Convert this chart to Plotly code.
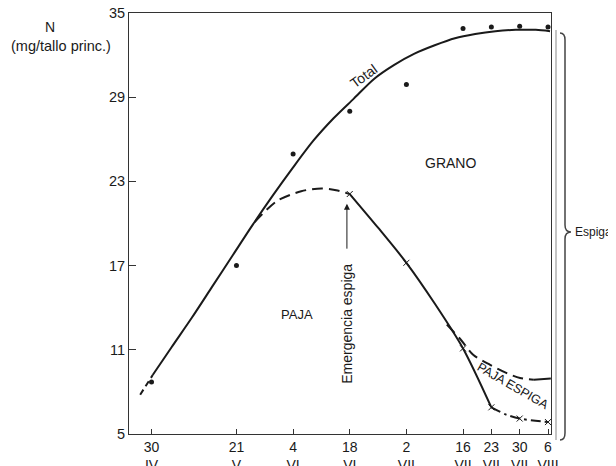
import plotly.graph_objects as go

# ---- data (days after 30 April) ----
tick_days = [0, 21, 35, 49, 63, 77, 84, 91, 98]
tick_day_labels = ["30", "21", "4", "18", "2", "16", "23", "30", "6"]
tick_month_labels = ["IV", "V", "VI", "VI", "VII", "VII", "VII", "VII", "VIII"]

y_ticks = [5, 11, 17, 23, 29, 35]

# observed total N (dots)
total_obs_days = [0, 21, 35, 49, 63, 77, 84, 91, 98]
total_obs_vals = [8.7, 17.0, 24.95, 28.0, 29.9, 33.9, 34.0, 34.05, 34.0]

# observed straw N (x marks)
paja_obs_days = [49, 63, 77, 84, 91, 98]
paja_obs_vals = [22.1, 17.2, 11.1, 6.9, 6.1, 5.85]

# fitted total curve
total_start_days = [-2.8, 0.3]
total_start_vals = [7.8, 9.2]
total_curve_days = [0.3, 5, 10, 15, 20, 25, 30, 35, 40, 45, 50, 55, 60, 65, 70, 75, 80, 85, 90, 95, 98.5]
total_curve_vals = [9.2, 11.2, 13.3, 15.5, 17.7, 19.9, 22.0, 24.0, 25.9, 27.5, 28.9, 30.3, 31.3, 32.1, 32.7, 33.2, 33.5, 33.7, 33.8, 33.8, 33.7]

# straw curve before ear emergence (dashed)
paja_pre_days = [25.5, 31, 37, 42, 46, 49]
paja_pre_vals = [20.1, 21.6, 22.3, 22.5, 22.35, 22.1]

# straw curve after ear emergence (solid)
paja_post_days = [49, 56, 63, 70, 77, 84]
paja_post_vals = [22.1, 19.7, 17.2, 14.3, 11.1, 6.9]

# straw curve, last part (dash-dot)
paja_end_days = [84, 87.5, 91, 98]
paja_end_vals = [6.9, 6.4, 6.1, 5.85]

# upper limit of ear straw (dashed then solid)
espiga_dash_days = [73, 76.5, 79.5, 83.7, 87.8, 91.1, 94.5]
espiga_dash_vals = [12.8, 11.7, 10.65, 9.93, 9.34, 8.99, 8.87]
espiga_solid_days = [94.5, 98.7]
espiga_solid_vals = [8.87, 8.95]

FONT = "Liberation Sans, Arial, sans-serif"
INK = "#1a1a1a"

fig = go.Figure()

def line(x, y, dash="solid", width=2.0, shape="spline"):
    fig.add_trace(go.Scatter(x=x, y=y, mode="lines",
                             line=dict(color=INK, width=width, dash=dash, shape=shape, smoothing=0.8),
                             hoverinfo="skip", showlegend=False))

line(total_start_days, total_start_vals, dash="6px,4px", shape="linear")
line(total_curve_days, total_curve_vals)
line(paja_pre_days, paja_pre_vals, dash="11px,6px")
line(paja_post_days, paja_post_vals)
line(paja_end_days, paja_end_vals, dash="10px,4px,3px,4px")
line(espiga_dash_days, espiga_dash_vals, dash="11px,6px")
line(espiga_solid_days, espiga_solid_vals, shape="linear")

fig.add_trace(go.Scatter(x=total_obs_days, y=total_obs_vals, mode="markers",
                         marker=dict(symbol="circle", size=5, color=INK),
                         showlegend=False))
fig.add_trace(go.Scatter(x=paja_obs_days, y=paja_obs_vals, mode="markers",
                         marker=dict(symbol="x-thin", size=6, line=dict(color=INK, width=1)),
                         showlegend=False))

tick_text = [f"{d}<br>{m}" for d, m in zip(tick_day_labels, tick_month_labels)]

# page has an 8px body margin; plot area on screen: x 129..551, y 13..434
OFF = 8
SL, SR, ST, SB = 129, 551, 13, 434
W, H = 616, 466
L = SL - OFF
T = ST - OFF
PW, PH = SR - SL, SB - ST
R = W - L - PW
B = H - T - PH

def px(xs):
    return (xs - SL) / PW

def py(ys):
    return (SB - ys) / PH

fig.update_layout(
    width=W, height=H,
    margin=dict(l=L, r=R, t=T, b=B, pad=0, autoexpand=False),
    paper_bgcolor="white", plot_bgcolor="white",
    font=dict(family=FONT, color=INK),
    xaxis=dict(range=[-5.56, 98.74], tickmode="array", tickvals=tick_days, ticktext=tick_text,
               ticks="inside", ticklen=5, tickwidth=1, tickcolor="#333", automargin=False,
               ticklabeloverflow="allow",
               showline=True, linecolor="#333", linewidth=1, mirror=True,
               showgrid=False, zeroline=False, tickfont=dict(size=14, family=FONT)),
    yaxis=dict(range=[5, 35], tickmode="array", tickvals=y_ticks, automargin=False,
               ticklabeloverflow="allow",
               ticks="inside", ticklen=7, tickwidth=1, tickcolor="#333",
               showline=True, linecolor="#333", linewidth=1, mirror=True,
               showgrid=False, zeroline=False, tickfont=dict(size=14.5, family=FONT)),
)

ann = [
    dict(x=52.5, y=30.5, text="Total", textangle=-36, font=dict(size=14)),
    dict(x=74.0, y=24.3, text="GRANO", font=dict(size=14)),
    dict(x=35.9, y=13.5, text="PAJA", font=dict(size=13)),
    dict(x=48.3, y=12.85, text="Emergencia espiga", textangle=-90, font=dict(size=14)),
    dict(x=89.3, y=8.45, text="PAJA ESPIGA", textangle=30, font=dict(size=12.5)),
]
for a in ann:
    fig.add_annotation(showarrow=False, xref="x", yref="y", **a)

# arrow for ear emergence
fig.add_annotation(x=48.3, y=21.4, ax=48.3, ay=18.1, xref="x", yref="y", axref="x", ayref="y",
                   showarrow=True, arrowhead=2, arrowsize=1.2, arrowwidth=1, arrowcolor=INK, text="")

# y-axis title
fig.add_annotation(x=px(50), y=py(17), xref="paper", yref="paper", showarrow=False,
                   xanchor="center", text="N", font=dict(size=14))
fig.add_annotation(x=px(9), y=py(36), xref="paper", yref="paper", showarrow=False,
                   xanchor="left", text="(mg/tallo princ.)", font=dict(size=14.5))

# light vertical rule beside the frame
fig.add_shape(type="line", xref="paper", yref="paper", x0=px(556), x1=px(556), y0=py(30), y1=py(440),
              line=dict(color="#c4c4c4", width=2))

# brace for "Espiga"
sx, tipx, curlx = 565, 571, 560
top, mid, bot = 33, 232, 440
pts = [
    ("M", [(curlx, top)]),
    ("Q", [(sx, top), (sx, top + 7)]),
    ("L", [(sx, mid - 7)]),
    ("Q", [(sx, mid), (tipx, mid)]),
    ("Q", [(sx, mid), (sx, mid + 7)]),
    ("L", [(sx, bot - 7)]),
    ("Q", [(sx, bot), (curlx, bot)]),
]
path = " ".join(c + " " + " ".join(f"{px(a):.5f},{py(b):.5f}" for a, b in p) for c, p in pts)
fig.add_shape(type="path", path=path, xref="paper", yref="paper", line=dict(color="#444", width=1.5))

fig.add_annotation(x=px(573), y=py(232), xref="paper", yref="paper", showarrow=False,
                   xanchor="left", text="Espiga", font=dict(size=12))

fig.write_html("out.html")
